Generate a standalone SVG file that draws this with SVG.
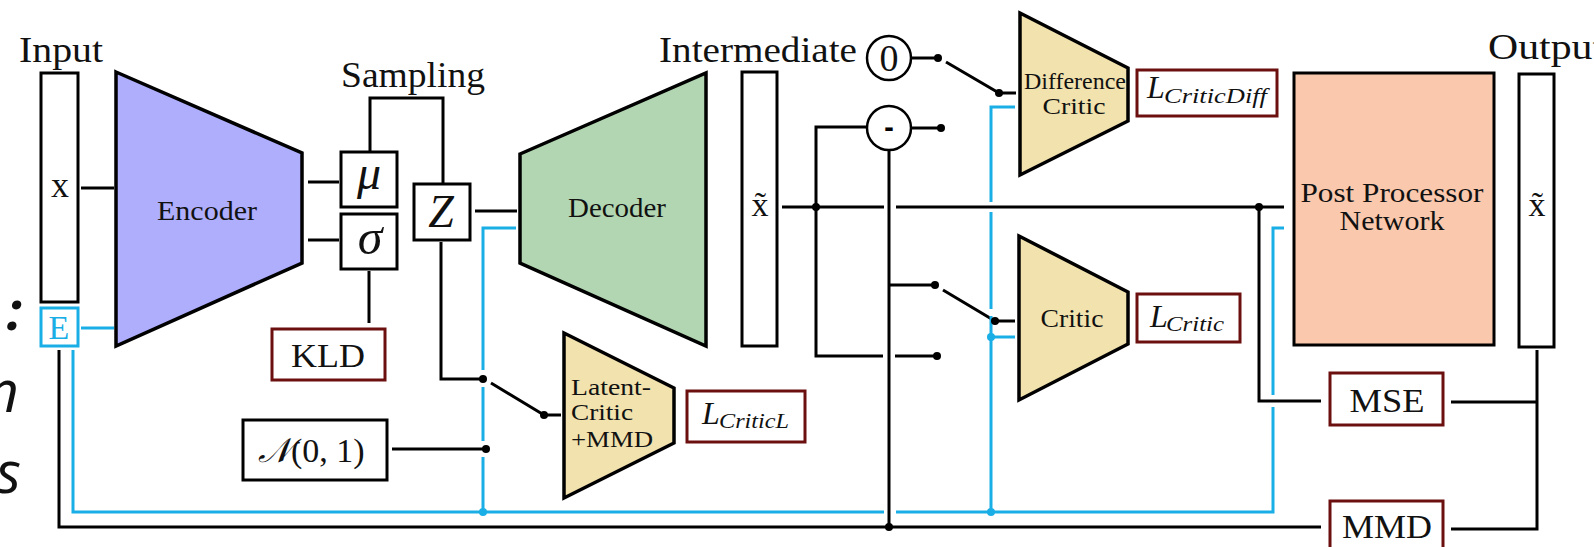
<svg xmlns="http://www.w3.org/2000/svg" width="1594" height="547" viewBox="0 0 1594 547">
<style>
.ln{fill:none;stroke:#000;stroke-width:3}
.bl{fill:none;stroke:#1AAEE6;stroke-width:3}
.bx{fill:#fff;stroke:#000;stroke-width:3}
.loss{fill:#fff;stroke:#6B0F0F;stroke-width:3}
.tr{stroke:#000;stroke-width:3.5;stroke-linejoin:miter}
.t{font-family:"Liberation Serif","DejaVu Serif",serif;fill:#111}
.m{font-family:"Liberation Serif","DejaVu Serif",serif;font-style:italic;fill:#111}
.c{text-anchor:middle}
.dot{fill:#000}
.bdot{fill:#1AAEE6}
.side{font-family:"Open Sans","Noto Sans",sans-serif;font-style:italic;fill:#111;text-anchor:end}
</style>
<rect width="1594" height="547" fill="#fff"/>

<g id="slide-text">
<text class="side" x="22" y="330" font-size="54" font-weight="bold">:</text>
<text class="side" x="19" y="412" font-size="58">n</text>
<text class="side" x="21" y="493" font-size="58">s</text>
</g>

<g id="connectors">
<path class="ln" d="M81 188H114"/>
<path class="ln" d="M308 182H339"/>
<path class="ln" d="M308 240H339"/>
<path class="ln" d="M370 151V98H443V184"/>
<path class="ln" d="M475 211H517"/>
<path class="ln" d="M369 271V323"/>
<path class="ln" d="M441 242V379H483"/>
<path class="ln" d="M491 383L544 415H561"/>
<path class="ln" d="M392 449H486"/>
<path class="ln" d="M782 207H884M896 207H1284"/>
<path class="ln" d="M816 207V127H867"/>
<path class="ln" d="M816 207V356H883M895 356H937"/>
<path class="ln" d="M911 58H938"/>
<path class="ln" d="M946 62L999 93H1016"/>
<path class="ln" d="M911 128H941"/>
<path class="ln" d="M889 150V527"/>
<path class="ln" d="M889 285H935"/>
<path class="ln" d="M943 290L995 321H1015"/>
<path class="ln" d="M1259 207V401H1321"/>
<path class="ln" d="M1451 402H1537"/>
<path class="ln" d="M1537 350V529H1451"/>
<path class="ln" d="M59 350V527H1321"/>
<path class="bl" d="M81 328H114"/>
<path class="bl" d="M73 350V512H884M896 512H1273V407M1273 395V228H1284"/>
<path class="bl" d="M516 228H483V370M483 387V441M483 457V512"/>
<path class="bl" d="M1015 107H991V202M991 212V309M991 316V512"/>
<path class="bl" d="M991 337H1015"/>
<circle class="dot" cx="483" cy="379" r="4"/>
<circle class="dot" cx="544" cy="415" r="4"/>
<circle class="dot" cx="486" cy="449" r="4"/>
<circle class="dot" cx="816" cy="207" r="4"/>
<circle class="dot" cx="938" cy="58" r="4"/>
<circle class="dot" cx="999" cy="93" r="4"/>
<circle class="dot" cx="941" cy="128" r="4"/>
<circle class="dot" cx="935" cy="285" r="4"/>
<circle class="dot" cx="937" cy="356" r="4"/>
<circle class="dot" cx="995" cy="321" r="4"/>
<circle class="dot" cx="889" cy="527" r="4"/>
<circle class="dot" cx="1259" cy="207" r="4"/>
<circle class="bdot" cx="483" cy="512" r="4"/>
<circle class="bdot" cx="991" cy="337" r="4"/>
<circle class="bdot" cx="991" cy="512" r="4"/>
</g>

<g id="input">
<text class="t" x="19" y="62" font-size="35" textLength="84" lengthAdjust="spacingAndGlyphs">Input</text>
<rect class="bx" x="41" y="73" width="37" height="229"/>
<text class="t c" x="60" y="197" font-size="36">x</text>
</g>
<g id="e-box">
<rect x="41" y="308" width="37" height="38" fill="#fff" stroke="#1AAEE6" stroke-width="3"/>
<text class="t c" x="59" y="339" font-size="34" style="fill:#1AAEE6">E</text>
</g>
<g id="encoder">
<polygon class="tr" points="116,72 302,153 302,263 116,346" fill="#AEAEFD"/>
<text class="t c" x="207" y="220" font-size="28" textLength="100" lengthAdjust="spacingAndGlyphs">Encoder</text>
</g>
<g id="mu">
<rect class="bx" x="341" y="152" width="56" height="55"/>
<text class="m c" x="369" y="189" font-size="48">μ</text>
</g>
<g id="sigma">
<rect class="bx" x="341" y="214" width="56" height="55"/>
<text class="m c" x="370" y="254" font-size="50">σ</text>
</g>
<g id="sampling-label">
<text class="t" x="341" y="87" font-size="35" textLength="144" lengthAdjust="spacingAndGlyphs">Sampling</text>
</g>
<g id="z">
<rect class="bx" x="414" y="184" width="56" height="56"/>
<text class="m c" x="441" y="227" font-size="46">Z</text>
</g>
<g id="kld">
<rect class="loss" x="272" y="329" width="113" height="51"/>
<text class="t c" x="328" y="367" font-size="34" textLength="74" lengthAdjust="spacingAndGlyphs">KLD</text>
</g>
<g id="normal">
<rect class="bx" x="243" y="420" width="144" height="60"/>
<text class="t" x="258" y="462" font-size="34"><tspan class="m" font-family="DejaVu Serif" font-style="italic">𝒩</tspan>(0, 1)</text>
</g>
<g id="decoder">
<polygon class="tr" points="520,154 706,73 706,346 520,263" fill="#B2D6B1"/>
<text class="t c" x="617" y="217" font-size="28" textLength="98" lengthAdjust="spacingAndGlyphs">Decoder</text>
</g>
<g id="intermediate">
<text class="t" x="659" y="62" font-size="35" textLength="198" lengthAdjust="spacingAndGlyphs">Intermediate</text>
<rect class="bx" x="742" y="72" width="35" height="274"/>
<text class="t c" x="760" y="216" font-size="34">x̃</text>
</g>
<g id="latent-critic">
<polygon class="tr" points="564,333 674,388 674,443 564,498" fill="#F2E2AE"/>
<text class="t" x="571" y="395" font-size="24" textLength="80" lengthAdjust="spacingAndGlyphs">Latent-</text>
<text class="t" x="571" y="420" font-size="24" textLength="62" lengthAdjust="spacingAndGlyphs">Critic</text>
<text class="t" x="571" y="447" font-size="24" textLength="82" lengthAdjust="spacingAndGlyphs">+MMD</text>
</g>
<g id="loss-critic-l">
<rect class="loss" x="687" y="391" width="118" height="51"/>
<text class="m" x="702" y="424" font-size="32">L</text>
<text class="m" x="719" y="428" font-size="21" textLength="70" lengthAdjust="spacingAndGlyphs">CriticL</text>
</g>
<g id="zero">
<circle cx="889" cy="58" r="22" fill="#fff" stroke="#000" stroke-width="2.5"/>
<text class="t c" x="889" y="71" font-size="38">0</text>
</g>
<g id="minus">
<circle cx="889" cy="128" r="22" fill="#fff" stroke="#000" stroke-width="2.5"/>
<text class="c" x="889" y="136" font-size="24" font-family="DejaVu Sans, sans-serif" font-weight="bold">-</text>
</g>
<g id="difference-critic">
<polygon class="tr" points="1020,13 1128,68 1128,121 1020,175" fill="#F2E2AE"/>
<text class="t c" x="1075" y="89" font-size="23" textLength="102" lengthAdjust="spacingAndGlyphs">Difference</text>
<text class="t c" x="1074" y="114" font-size="23" textLength="63" lengthAdjust="spacingAndGlyphs">Critic</text>
</g>
<g id="loss-critic-diff">
<rect class="loss" x="1137" y="70" width="140" height="46"/>
<text class="m" x="1147" y="98" font-size="32">L</text>
<text class="m" x="1164" y="103" font-size="21" textLength="103" lengthAdjust="spacingAndGlyphs">CriticDiff</text>
</g>
<g id="critic">
<polygon class="tr" points="1019,236 1128,292 1128,344 1019,400" fill="#F2E2AE"/>
<text class="t c" x="1072" y="327" font-size="25" textLength="63" lengthAdjust="spacingAndGlyphs">Critic</text>
</g>
<g id="loss-critic">
<rect class="loss" x="1137" y="294" width="103" height="48"/>
<text class="m" x="1150" y="327" font-size="32">L</text>
<text class="m" x="1166" y="331" font-size="21" textLength="58" lengthAdjust="spacingAndGlyphs">Critic</text>
</g>
<g id="post-processor">
<rect x="1294" y="73" width="200" height="272" fill="#F9C8AD" stroke="#000" stroke-width="3"/>
<text class="t c" x="1392" y="202" font-size="28" textLength="183" lengthAdjust="spacingAndGlyphs">Post Processor</text>
<text class="t c" x="1392" y="230" font-size="28" textLength="105" lengthAdjust="spacingAndGlyphs">Network</text>
</g>
<g id="output">
<text class="t" x="1488" y="59" font-size="35" textLength="116" lengthAdjust="spacingAndGlyphs">Output</text>
<rect class="bx" x="1519" y="74" width="35" height="273"/>
<text class="t c" x="1537" y="216" font-size="34">x̃</text>
</g>
<g id="mse">
<rect class="loss" x="1330" y="373" width="113" height="52"/>
<text class="t c" x="1387" y="412" font-size="34" textLength="75" lengthAdjust="spacingAndGlyphs">MSE</text>
</g>
<g id="mmd">
<rect class="loss" x="1330" y="501" width="113" height="60"/>
<text class="t c" x="1387" y="538" font-size="34" textLength="90" lengthAdjust="spacingAndGlyphs">MMD</text>
</g>
</svg>
